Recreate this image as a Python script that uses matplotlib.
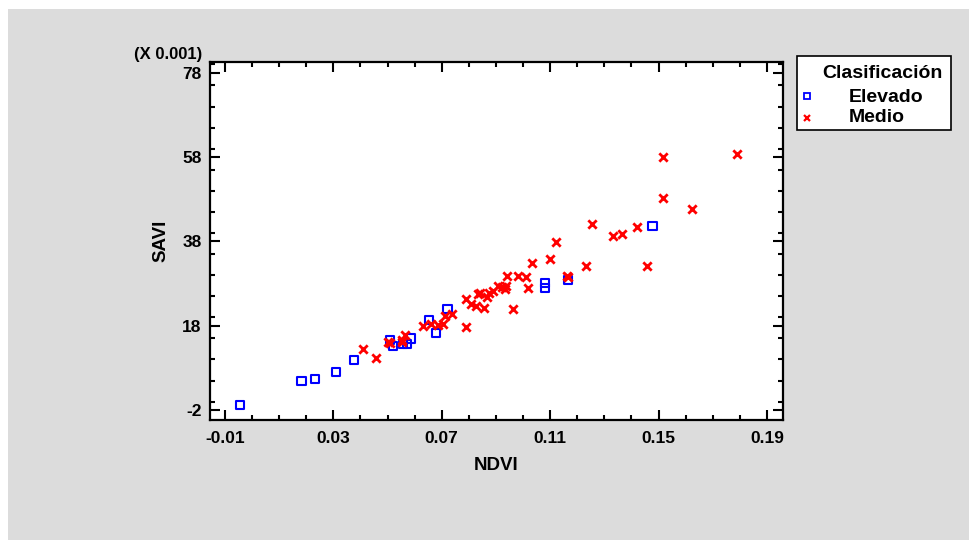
import matplotlib
matplotlib.use("Agg")
import matplotlib.pyplot as plt
from matplotlib.patches import Rectangle
from matplotlib.lines import Line2D
from matplotlib.ticker import MultipleLocator

# ======================
# Data (SAVI in units of 0.001)
# ======================

elevado_ndvi = [-0.0044, 0.0183, 0.0232, 0.0311, 0.0377, 0.0509, 0.0519,
                0.0558, 0.0573, 0.0587, 0.0654, 0.0678, 0.0721, 0.1081,
                0.1081, 0.1167, 0.1477]
elevado_savi = [-0.88, 4.88, 5.28, 7.02, 9.93, 14.6, 13.26,
                13.59, 13.59, 15.0, 19.35, 16.2, 21.9, 28.2,
                26.9, 28.84, 41.7]

medio_ndvi = [0.0410, 0.0459, 0.0503, 0.0509, 0.0552, 0.0555, 0.0565,
              0.0632, 0.0661, 0.0686, 0.0704, 0.0712, 0.0739, 0.0790,
              0.0790, 0.0807, 0.0827, 0.0835, 0.0841, 0.0857, 0.0868,
              0.0876, 0.0890, 0.0909, 0.0923, 0.0934, 0.0937, 0.0942,
              0.0964, 0.0980, 0.1009, 0.1020, 0.1032, 0.1100, 0.1122,
              0.1161, 0.1167, 0.1234, 0.1256, 0.1331, 0.1364, 0.1420,
              0.1459, 0.1516, 0.1516, 0.1623, 0.1791]
medio_savi = [12.47, 10.27, 14.13, 13.82, 14.61, 14.25, 15.72,
              17.93, 18.40, 18.05, 18.40, 20.42, 20.78, 17.62,
              24.33, 23.15, 22.67, 25.45, 25.76, 22.20, 24.81,
              25.83, 26.30, 27.42, 27.25, 26.64, 27.49, 29.86,
              21.89, 29.86, 29.48, 26.90, 32.80, 33.78, 37.79,
              29.91, 29.67, 32.05, 42.13, 39.28, 39.68, 41.42,
              32.09, 58.10, 48.30, 45.76, 58.81]

x_ticks = [-0.01, 0.03, 0.07, 0.11, 0.15, 0.19]
y_ticks = [-2, 18, 38, 58, 78]

legend_title = "Clasificación"
legend_labels = ["Elevado", "Medio"]

# ======================
# Figure
# ======================

plt.rcParams["font.family"] = ["Liberation Sans", "DejaVu Sans"]
plt.rcParams["font.weight"] = "bold"

W, H = 969, 540
fig = plt.figure(figsize=(W / 100, H / 100), dpi=100)
fig.patch.set_facecolor("white")

# gray panel behind everything
fig.patches.append(
    Rectangle((8 / W, 0), 1 - 8 / W, 1 - 9 / H,
              transform=fig.transFigure, facecolor="#dcdcdc",
              edgecolor="none", zorder=-10)
)

ax = fig.add_axes([210 / W, 1 - 420 / H, 573 / W, 358 / H])
ax.set_zorder(5)
ax.set_facecolor("white")

ax.scatter(elevado_ndvi, elevado_savi, marker="s", s=36,
           facecolors="none", edgecolors="#0000ff", linewidths=1.5,
           zorder=3)
ax.scatter(medio_ndvi, medio_savi, marker="x", s=36,
           color="#ff0000", linewidths=2.0, zorder=3)

ax.set_xlim(-0.0155, 0.1959)
ax.set_ylim(-4.37, 80.56)

ax.set_xticks(x_ticks)
ax.set_xticklabels([f"{v:.2f}" for v in x_ticks])
ax.set_yticks(y_ticks)
ax.set_yticklabels([str(v) for v in y_ticks])
ax.xaxis.set_minor_locator(MultipleLocator(0.01))
ax.yaxis.set_minor_locator(MultipleLocator(5))

ax.tick_params(which="both", direction="in", top=True, right=True,
               width=1.5, labelsize=12.5, colors="black")
ax.tick_params(which="major", length=7.5)
ax.tick_params(which="minor", length=3.5)
ax.tick_params(axis="x", which="major", pad=8)
ax.tick_params(axis="y", which="major", pad=6)

for s in ax.spines.values():
    s.set_linewidth(1.6)

ax.set_xlabel("NDVI", fontsize=13.5, fontweight="bold", labelpad=8)
ax.set_ylabel("SAVI", fontsize=13.5, fontweight="bold", labelpad=9)

fig.text(202 / W, 1 - 54 / H, "(X 0.001)", fontsize=12,
         fontweight="bold", ha="right", va="center")

# ======================
# Legend box
# ======================

fig.patches.append(
    Rectangle((797 / W, 1 - 130 / H), 154 / W, 74 / H,
              transform=fig.transFigure, facecolor="white",
              edgecolor="black", linewidth=1.2, zorder=1)
)
fig.text(882 / W, 1 - 74 / H, legend_title, fontsize=14,
         fontweight="bold", ha="center", va="center")
fig.text(849 / W, 1 - 97 / H, legend_labels[0], fontsize=14,
         fontweight="bold", ha="left", va="center")
fig.text(849 / W, 1 - 118 / H, legend_labels[1], fontsize=14,
         fontweight="bold", ha="left", va="center")
fig.lines.append(
    Line2D([807 / W], [1 - 96 / H], transform=fig.transFigure,
           marker="s", markersize=4.5, markerfacecolor="none",
           markeredgecolor="#0000ff", markeredgewidth=1.3, linestyle="none",
           zorder=2)
)
fig.lines.append(
    Line2D([807 / W], [1 - 118 / H], transform=fig.transFigure,
           marker="x", markersize=5, color="#ff0000",
           markeredgewidth=1.6, linestyle="none", zorder=2)
)

fig.savefig("out.png", dpi=100, facecolor=fig.get_facecolor())
